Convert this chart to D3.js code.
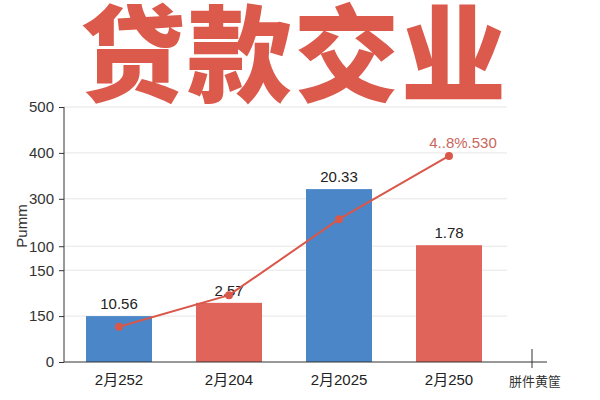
<!DOCTYPE html>
<html><head><meta charset="utf-8">
<script src="https://cdn.jsdelivr.net/npm/d3@7"></script>
<style>
body{margin:0;background:#fff;}
svg text{font-family:"Liberation Sans","Noto Sans CJK SC",sans-serif;}
</style></head>
<body><svg id="c" width="600" height="400"></svg>
<script>
const title = "贷款交业";
const categories = ["2月252","2月204","2月2025","2月250"];
const barValues = [90, 116, 339, 229];
const barColors = ["#4a86c8","#e0645a","#4a86c8","#e0645a"];
const barLabels = ["10.56","2.57","20.33","1.78"];
const lineValues = [69, 131, 280, 404];
const lineEndLabel = "4..8%.530";
const tickValues = [0, 90, 180, 227, 320, 410, 500];
const tickLabels = ["0","150","150","100","300","400","500"];
const yAxisTitle = "Pumm";
const extraXLabel = "胼件黄筐";

const svg = d3.select("#c");
const x0 = 64, x1 = 504, yTop = 107, yBot = 362;
const x = d3.scaleBand().domain(categories).range([x0, x1]).paddingInner(0.4).paddingOuter(0.2);
const y = d3.scaleLinear().domain([0, 500]).range([yBot, yTop]);

// title
svg.append("text").attr("x", 294).attr("y", 93).attr("text-anchor","middle")
  .style("font-family","'Noto Sans CJK SC',sans-serif").style("font-weight","900")
  .style("font-size","105px").style("letter-spacing","2px").attr("fill","#dc5a4c").text(title);

// gridlines
svg.append("g").selectAll("line").data(tickValues.filter(v=>v>0)).join("line")
  .attr("x1", x0).attr("x2", 507).attr("y1", d=>y(d)).attr("y2", d=>y(d))
  .attr("stroke","#e6e6e6").attr("stroke-width",1);

// bars
svg.append("g").selectAll("rect").data(categories).join("rect")
  .attr("x", d=>x(d)).attr("width", x.bandwidth())
  .attr("y", (d,i)=>y(barValues[i])).attr("height", (d,i)=>yBot - y(barValues[i]))
  .attr("fill", (d,i)=>barColors[i]);

// bar labels
svg.append("g").selectAll("text").data(categories).join("text")
  .attr("x", d=>x(d)+x.bandwidth()/2).attr("y", (d,i)=>y(barValues[i]) - 7)
  .attr("text-anchor","middle").style("font-size","15px").attr("fill","#222")
  .text((d,i)=>barLabels[i]);

// line
const line = d3.line().x((d,i)=>x(categories[i])+x.bandwidth()/2).y(d=>y(d));
svg.append("path").datum(lineValues).attr("d", line).attr("fill","none")
  .attr("stroke","#d9584a").attr("stroke-width",2);
svg.append("g").selectAll("circle").data(lineValues).join("circle")
  .attr("cx", (d,i)=>x(categories[i])+x.bandwidth()/2).attr("cy", d=>y(d)).attr("r",4)
  .attr("fill","#d9584a");
svg.append("text").attr("x", x(categories[3])+x.bandwidth()/2 + 14).attr("y", y(lineValues[3]) - 8)
  .attr("text-anchor","middle").style("font-size","15px").attr("fill","#c8665c").text(lineEndLabel);

// y axis
const yAxis = d3.axisLeft(y).tickValues(tickValues).tickFormat((d,i)=>tickLabels[i]).tickSize(5).tickPadding(5);
const gy = svg.append("g").attr("transform",`translate(${x0},0)`).call(yAxis);
gy.select(".domain").attr("stroke","#333").attr("d", `M-0,${yTop}V${yBot}`);
gy.selectAll(".tick line").attr("stroke","#333");
gy.selectAll(".tick text").style("font-size","15px").attr("fill","#333")
  .style("font-family","'Liberation Sans',sans-serif");

// x axis
const xAxis = d3.axisBottom(x).tickSize(0).tickPadding(12);
const gx = svg.append("g").attr("transform",`translate(0,${yBot})`).call(xAxis);
gx.select(".domain").attr("stroke","#333").attr("d", `M${x0},0H547`);
gx.selectAll(".tick text").style("font-size","15px").attr("fill","#222");
gx.append("line").attr("x1",532).attr("x2",532).attr("y1",-13).attr("y2",6).attr("stroke","#333");
gx.append("text").attr("x",535).attr("y",24).attr("text-anchor","middle")
  .style("font-size","13px").attr("fill","#333").text(extraXLabel);

// y title
svg.append("text").attr("transform","translate(27,226) rotate(-90)").attr("text-anchor","middle")
  .style("font-size","15px").attr("fill","#333").text(yAxisTitle);
</script></body></html>
